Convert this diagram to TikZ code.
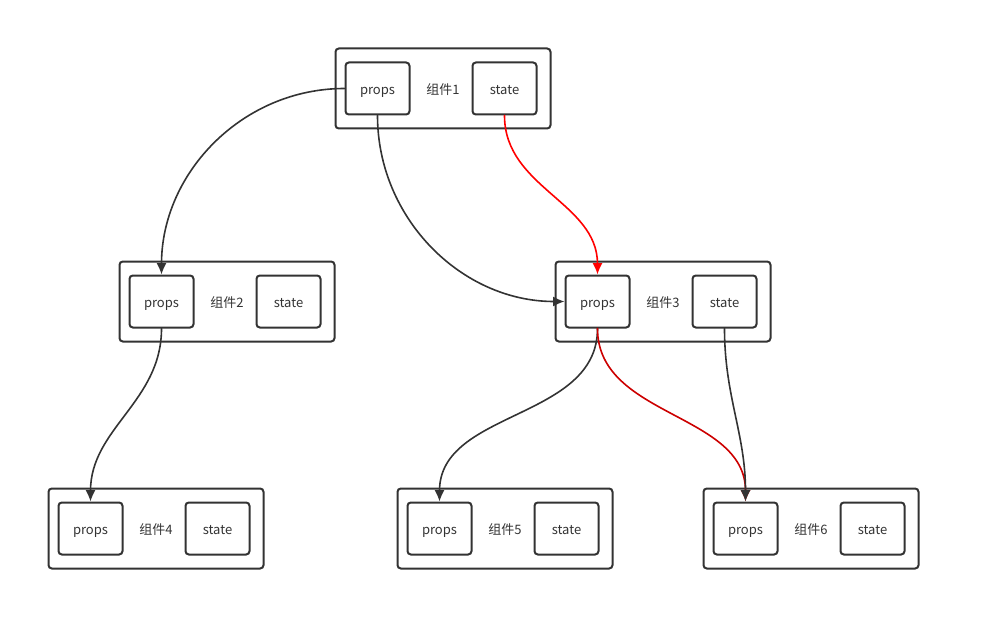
\documentclass[tikz,border=0pt]{standalone}
\usepackage{fontspec}
\setmainfont{Noto Sans CJK SC}
\usetikzlibrary{arrows.meta}
\definecolor{inkgray}{HTML}{333333}
\definecolor{linkred}{HTML}{FF0000}
\definecolor{deepred}{HTML}{CC0000}
\tikzset{comp/.style={rectangle,draw=inkgray,line width=1.5pt,rounded corners=2.5pt,minimum width=161.25pt,minimum height=60pt,inner sep=0pt,text height=1em,text depth=0.1em,font=\fontsize{9.75}{12}\selectfont,text=inkgray},field/.style={rectangle,draw=inkgray,fill=white,line width=1.5pt,rounded corners=2.5pt,minimum width=48pt,minimum height=39pt,inner sep=0pt,text height=1em,text depth=0.1em,font=\fontsize{9.75}{12}\selectfont,text=inkgray},flow/.style={-{Latex[length=8.5pt,width=7.5pt]},line width=1.2pt,draw=inkgray},every picture/.style={line cap=round}}
\begin{document}
\begin{tikzpicture}[x=0.75pt,y=-0.75pt]
\useasboundingbox (0,0) rectangle (981,631);
% component 1
\node[comp] (c1) at (443,88.5) {组件1};
\node[field] (p1) at (377.5,88.5) {props};
\node[field] (s1) at (504.5,88.5) {state};
% component 2
\node[comp] (c2) at (227,301.5) {组件2};
\node[field] (p2) at (161.5,301.5) {props};
\node[field] (s2) at (288.5,301.5) {state};
% component 3
\node[comp] (c3) at (663,301.5) {组件3};
\node[field] (p3) at (597.5,301.5) {props};
\node[field] (s3) at (724.5,301.5) {state};
% components 4, 5, 6
\node[comp] (c4) at (156,528.5) {组件4};
\node[field] (p4) at (90.5,528.5) {props};
\node[field] (s4) at (217.5,528.5) {state};
\node[comp] (c5) at (505,528.5) {组件5};
\node[field] (p5) at (439.5,528.5) {props};
\node[field] (s5) at (566.5,528.5) {state};
\node[comp] (c6) at (811,528.5) {组件6};
\node[field] (p6) at (745.5,528.5) {props};
\node[field] (s6) at (872.5,528.5) {state};
% connectors
\draw[flow] (p1.west) to[out=180,in=90] (p2.north);
\draw[flow] (p1.south) to[out=-90,in=180] (p3.west);
\draw[flow,draw=linkred,-{Latex[length=8.5pt,width=7.5pt,fill=linkred]}] (s1.south) to[out=-90,in=90] (p3.north);
\draw[flow] (p2.south) to[out=-90,in=90] (p4.north);
\draw[flow] (p3.south) to[out=-90,in=90] (p5.north);
\draw[flow,draw=deepred] (p3.south) to[out=-90,in=90] (p6.north);
\draw[flow] (s3.south) to[out=-90,in=90] (p6.north);
\end{tikzpicture}
\end{document}
